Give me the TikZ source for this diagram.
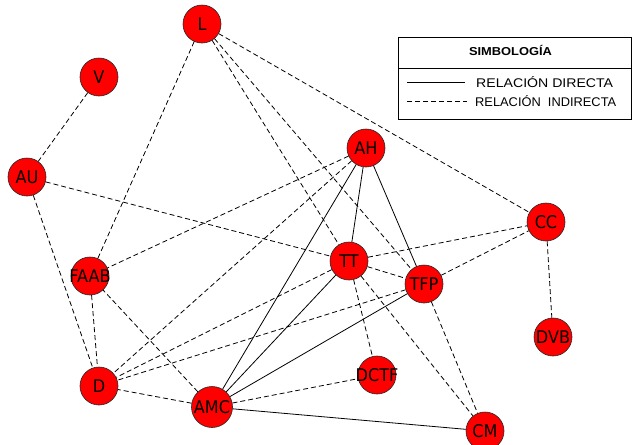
\documentclass[tikz,border=0pt]{standalone}
\usepackage{fontspec}
\setmainfont{Liberation Sans}
\newfontfamily\nodefont[FakeStretch=0.92]{DejaVu Sans}
\newfontfamily\legendfont[FakeStretch=1.12]{Liberation Sans}
\newcommand\ctr[1]{\makebox[0pt]{#1}}
\begin{document}
\begin{tikzpicture}[x=1pt,y=-1pt,
  actor/.style={circle,draw=black!85,line width=0.6pt,fill=red,minimum size=38pt,
    inner sep=0pt,font={\nodefont\fontsize{17.5}{19}\selectfont},text=black},
  direct/.style={draw=black,line width=0.8pt},
  indirect/.style={draw=black,line width=0.8pt,dash pattern=on 5pt off 3pt},
  legendtext/.style={inner sep=0pt,font={\legendfont\fontsize{12.6}{14}\selectfont}},
  legendtitle/.style={inner sep=0pt,font={\legendfont\bfseries\fontsize{11.5}{13}\selectfont}}]

\useasboundingbox (0,0) rectangle (633,445);

% actors
\node[actor] (L)    at (202,24)  {\ctr{L}};
\node[actor] (V)    at (99,77)   {\ctr{V}};
\node[actor] (AU)   at (27,177)  {\ctr{AU}};
\node[actor] (AH)   at (366,148) {\ctr{AH}};
\node[actor] (CC)   at (546,222) {\ctr{CC}};
\node[actor] (FAAB) at (90,276)  {\ctr{FAAB}};
\node[actor] (TT)   at (349,261) {\ctr{TT}};
\node[actor] (TFP)  at (424,284) {\ctr{TFP}};
\node[actor] (DVB)  at (553,337) {\ctr{DVB}};
\node[actor] (D)    at (99,386)  {\ctr{D}};
\node[actor] (DCTF) at (377,375) {\ctr{DCTF}};
\node[actor,minimum size=41pt] (AMC) at (212,407) {\ctr{AMC}};
\node[actor] (CM)   at (485,431) {\ctr{CM}};

% direct relations
\draw[direct] (AH) -- (TT);
\draw[direct] (AH) -- (TFP);
\draw[direct] (AH) -- (AMC);
\draw[direct] (TT) -- (AMC);
\draw[direct] (TFP) -- (AMC);
\draw[direct] (AMC) -- (CM);

% indirect relations
\draw[indirect] (L) -- (FAAB);
\draw[indirect] (L) -- (CC);
\draw[indirect] (L) -- (TT);
\draw[indirect] (L) -- (TFP);
\draw[indirect] (V) -- (AU);
\draw[indirect] (AU) -- (TT);
\draw[indirect] (AU) -- (D);
\draw[indirect] (AH) -- (FAAB);
\draw[indirect] (AH) -- (D);
\draw[indirect] (TT) -- (CC);
\draw[indirect] (TFP) -- (CC);
\draw[indirect] (CC) -- (DVB);
\draw[indirect] (TT) -- (D);
\draw[indirect] (TFP) -- (D);
\draw[indirect] (TT) -- (TFP);
\draw[indirect] (TT) -- (DCTF);
\draw[indirect] (TT) -- (CM);
\draw[indirect] (TFP) -- (CM);
\draw[indirect] (AMC) -- (DCTF);
\draw[indirect] (AMC) -- (D);
\draw[indirect] (AMC) -- (FAAB);
\draw[indirect] (FAAB) -- (D);

% legend
\draw[line width=0.8pt] (398,37) rectangle (631,119);
\draw[line width=0.8pt] (398,68) -- (631,68);
\node[legendtitle,anchor=base] (title) at (510.5,55) {SIMBOLOGÍA};
\coordinate (dirA) at (407,82);
\coordinate (dirB) at (465,82);
\draw[direct] (dirA) -- (dirB);
\node[legendtext,anchor=base west] (dirtext) at (476,87) {RELACIÓN DIRECTA};
\coordinate (indA) at (407,101);
\coordinate (indB) at (467,101);
\draw[indirect] (indA) -- (indB);
\node[legendtext,anchor=base west] (indtext) at (475,106) {\scalebox{0.91}[1]{RELACIÓN\ \ INDIRECTA}};
\end{tikzpicture}
\end{document}
